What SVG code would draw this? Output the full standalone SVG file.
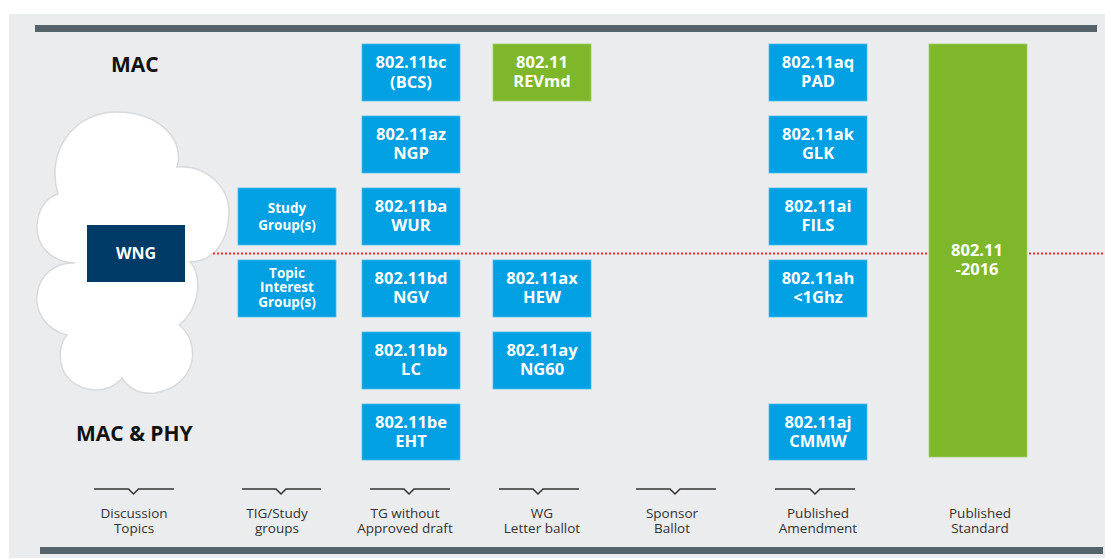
<svg xmlns="http://www.w3.org/2000/svg" width="1105" height="560" viewBox="0 0 1105 560">
<style>
.bx{fill:#00a0e3;stroke:#4fbdec;stroke-width:0.8}
.gr{fill:#7eb82a;stroke:#a5d06a;stroke-width:0.8}
.bt{font-family:"Open Sans","Noto Sans",sans-serif;font-weight:bold;font-size:16.5px;fill:#fff;text-anchor:middle}
.st{font-family:"Open Sans","Noto Sans",sans-serif;font-weight:bold;font-size:13.5px;fill:#fff;text-anchor:middle}
.hd{font-family:"Open Sans","Noto Sans",sans-serif;font-weight:bold;font-size:21px;fill:#111}
.lb{font-family:"Open Sans","Noto Sans",sans-serif;font-size:13.5px;fill:#333;text-anchor:middle}
.br{fill:none;stroke:#333;stroke-width:1.5}
.bar{fill:#56636b}
</style>
<rect x="0" y="0" width="1105" height="560" fill="#fff"/>
<rect x="9" y="14" width="1096" height="544" fill="#ebecee"/>
<rect class="bar" x="35" y="25" width="1062" height="7"/>
<rect class="bar" x="40" y="547" width="1063" height="7"/>

<text class="hd" x="111" y="72">MAC</text>
<text class="hd" x="76" y="441">MAC &amp; PHY</text>

<g id="cloud">
<path d="M58,194 C45,150 75,112 116,112 C160,112 185,140 177,167 C205,165 230,185 229,215 C228,245 210,262 190,262 C200,270 204,305 179,325 C200,340 200,385 155,393 C140,395 128,388 122,378 C110,395 75,395 63,370 C58,358 60,342 67,335 C45,330 35,310 37,295 C39,275 55,262 75,263 C50,262 36,245 37,225 C38,210 45,198 58,194 Z" fill="#fff" stroke="#d9dadc" stroke-width="1.5"/>
</g>

<g id="connectors">
<line x1="213" y1="253.5" x2="1105" y2="253.5" stroke="#e8312f" stroke-width="2" stroke-dasharray="2 2"/>
</g>

<g id="wng"><rect x="87" y="225" width="98" height="57" fill="#003b68"/><text class="bt" x="136" y="259" style="font-size:16px">WNG</text></g>

<g id="sg"><rect class="bx" x="238" y="188" width="98" height="57"/><text class="st" x="287" y="213">Study</text><text class="st" x="287" y="230">Group(s)</text></g>
<g id="tig"><rect class="bx" x="238" y="260" width="98" height="57"/><text class="st" x="287" y="277.5">Topic</text><text class="st" x="287" y="292">Interest</text><text class="st" x="287" y="306.5">Group(s)</text></g>

<g id="bc"><rect class="bx" x="362" y="44" width="98" height="57"/><text class="bt" x="411" y="67.5">802.11bc</text><text class="bt" x="411" y="88">(BCS)</text></g>
<g id="az"><rect class="bx" x="362" y="116" width="98" height="57"/><text class="bt" x="411" y="139.5">802.11az</text><text class="bt" x="411" y="159">NGP</text></g>
<g id="ba"><rect class="bx" x="362" y="188" width="98" height="57"/><text class="bt" x="411" y="211.5">802.11ba</text><text class="bt" x="411" y="231">WUR</text></g>
<g id="bd"><rect class="bx" x="362" y="260" width="98" height="57"/><text class="bt" x="411" y="283.5">802.11bd</text><text class="bt" x="411" y="303">NGV</text></g>
<g id="bb"><rect class="bx" x="362" y="332" width="98" height="57"/><text class="bt" x="411" y="355.5">802.11bb</text><text class="bt" x="411" y="375">LC</text></g>
<g id="be"><rect class="bx" x="362" y="404" width="98" height="56"/><text class="bt" x="411" y="427.5">802.11be</text><text class="bt" x="411" y="447">EHT</text></g>

<g id="revmd"><rect class="gr" x="493" y="44" width="98" height="57"/><text class="bt" x="542" y="67.5">802.11</text><text class="bt" x="542" y="87">REVmd</text></g>
<g id="ax"><rect class="bx" x="493" y="260" width="98" height="57"/><text class="bt" x="542" y="283.5">802.11ax</text><text class="bt" x="542" y="303">HEW</text></g>
<g id="ay"><rect class="bx" x="493" y="332" width="98" height="57"/><text class="bt" x="542" y="355.5">802.11ay</text><text class="bt" x="542" y="375">NG60</text></g>

<g id="aq"><rect class="bx" x="769" y="44" width="98" height="57"/><text class="bt" x="818" y="67.5">802.11aq</text><text class="bt" x="818" y="87">PAD</text></g>
<g id="ak"><rect class="bx" x="769" y="116" width="98" height="57"/><text class="bt" x="818" y="139.5">802.11ak</text><text class="bt" x="818" y="159">GLK</text></g>
<g id="ai"><rect class="bx" x="769" y="188" width="98" height="57"/><text class="bt" x="818" y="211.5">802.11ai</text><text class="bt" x="818" y="231">FILS</text></g>
<g id="ah"><rect class="bx" x="769" y="260" width="98" height="57"/><text class="bt" x="818" y="283.5">802.11ah</text><text class="bt" x="818" y="303">&lt;1Ghz</text></g>
<g id="aj"><rect class="bx" x="769" y="404" width="98" height="56"/><text class="bt" x="818" y="427.5">802.11aj</text><text class="bt" x="818" y="447">CMMW</text></g>

<g id="std2016"><rect class="gr" x="929" y="44" width="98" height="413"/><text class="bt" x="977" y="256">802.11</text><text class="bt" x="977" y="275">-2016</text></g>

<g id="stages">
<path class="br" d="M94,489 H128.5 L133.5,494 L138.5,489 H174"/>
<path class="br" d="M242,489 H276 L281,494 L286,489 H321"/>
<path class="br" d="M370,489 H404 L409,494 L414,489 H450"/>
<path class="br" d="M499,489 H533 L538,494 L543,489 H579"/>
<path class="br" d="M636,489 H670 L675,494 L680,489 H716"/>
<path class="br" d="M775,489 H810 L815,494 L820,489 H855"/>
<text class="lb" x="134" y="518">Discussion</text><text class="lb" x="134" y="533">Topics</text>
<text class="lb" x="277" y="518">TIG/Study</text><text class="lb" x="277" y="533">groups</text>
<text class="lb" x="405" y="518">TG without</text><text class="lb" x="405" y="533">Approved draft</text>
<text class="lb" x="542" y="518">WG</text><text class="lb" x="542" y="533">Letter ballot</text>
<text class="lb" x="672" y="518">Sponsor</text><text class="lb" x="672" y="533">Ballot</text>
<text class="lb" x="818" y="518">Published</text><text class="lb" x="818" y="533">Amendment</text>
<text class="lb" x="980" y="518">Published</text><text class="lb" x="980" y="533">Standard</text>
</g>
</svg>
